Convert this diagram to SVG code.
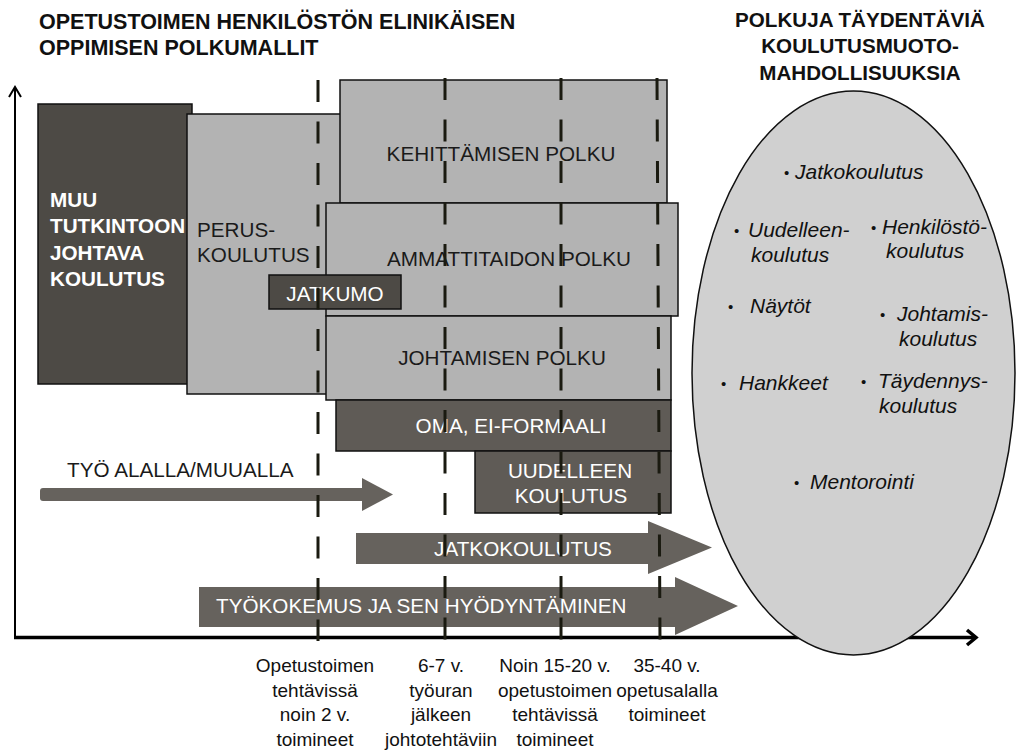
<svg xmlns="http://www.w3.org/2000/svg" width="1016" height="751" viewBox="0 0 1016 751">
<defs>
<style>
text{font-family:"Liberation Sans",Arial,Helvetica,sans-serif;}
.title{font-size:21.5px;font-weight:bold;fill:#111;}
.rtitle{font-size:20.6px;font-weight:bold;fill:#111;text-anchor:middle;}
.dark{fill:#4d4a45;stroke:#111;stroke-width:1.5;}
.mid{fill:#5f5b56;stroke:#111;stroke-width:1.5;}
.light{fill:#b3b3b3;stroke:#111;stroke-width:1.5;}
.arrow{fill:#66625d;stroke:none;}
.bt{font-size:20.7px;fill:#1a1a1a;}
.wt{font-size:20.7px;fill:#fff;}
.c{text-anchor:middle;}
.it{font-size:21px;font-style:italic;fill:#111;}
.bul{font-size:15px;fill:#111;}
.lab{font-size:19px;fill:#111;text-anchor:middle;}
.dash{stroke:#1a1a10;stroke-width:3;stroke-dasharray:22 19.5;fill:none;}
</style>
</defs>
<g id="titles">
<text class="title" x="39" y="29">OPETUSTOIMEN HENKILÖSTÖN ELINIKÄISEN</text>
<text class="title" x="39" y="55">OPPIMISEN POLKUMALLIT</text>
<text class="rtitle" x="860" y="27">POLKUJA TÄYDENTÄVIÄ</text>
<text class="rtitle" x="860" y="53">KOULUTUSMUOTO-</text>
<text class="rtitle" x="860" y="80">MAHDOLLISUUKSIA</text>
</g>
<g id="axes" fill="none" stroke="#000">
<line x1="15" y1="638" x2="15" y2="87" stroke-width="2"/>
<polyline points="9,97 15,87 21,97" stroke-width="2"/>
<line x1="14" y1="637.5" x2="975" y2="637.5" stroke-width="3.5"/>
<polyline points="967,630 976,637.5 967,645" stroke-width="3.5"/>
</g>
<g id="muu">
<rect class="dark" x="38" y="104" width="154" height="280"/>
<text class="wt" font-weight="bold" font-size="19.5" x="50" y="207">MUU</text>
<text class="wt" font-weight="bold" font-size="19.5" x="50" y="233">TUTKINTOON</text>
<text class="wt" font-weight="bold" font-size="19.5" x="50" y="260">JOHTAVA</text>
<text class="wt" font-weight="bold" font-size="19.5" x="50" y="286">KOULUTUS</text>
</g>
<g id="perus">
<rect class="light" x="187" y="114" width="160" height="280"/>
<text class="bt" x="197" y="237">PERUS-</text>
<text class="bt" x="197" y="262">KOULUTUS</text>
</g>
<g id="kehittamisen">
<rect class="light" x="340" y="80" width="327" height="123"/>
<text class="bt c" x="501" y="161">KEHITTÄMISEN POLKU</text>
</g>
<g id="ammattitaidon">
<rect class="light" x="326" y="203" width="352" height="113"/>
<text class="bt c" x="509" y="266">AMMATTITAIDON POLKU</text>
</g>
<g id="johtamisen">
<rect class="light" x="326" y="316" width="345" height="84"/>
<text class="bt c" x="502" y="365">JOHTAMISEN POLKU</text>
</g>
<g id="oma">
<rect class="mid" x="336" y="400" width="335" height="51"/>
<text class="wt c" x="511" y="433">OMA, EI-FORMAALI</text>
</g>
<g id="uudelleen">
<rect class="mid" x="475" y="451" width="196" height="62"/>
<text class="wt c" x="570" y="478">UUDELLEEN</text>
<text class="wt c" x="571" y="503">KOULUTUS</text>
</g>
<g id="jatkumo">
<rect class="dark" x="269" y="275" width="132" height="34"/>
<text class="wt c" x="335" y="301">JATKUMO</text>
</g>
<g id="tyo-alalla">
<rect class="arrow" x="40" y="488" width="326" height="13" rx="3"/>
<polygon class="arrow" points="362,478 393,494.5 362,511" stroke="#66625d" stroke-width="2" stroke-linejoin="round"/>
<text class="bt" x="67" y="477" font-size="21">TYÖ ALALLA/MUUALLA</text>
</g>
<g id="jatkokoulutus">
<polygon class="arrow" points="356,533 648,533 648,521 712,547.5 648,574 648,564 356,564"/>
<text class="wt c" x="523" y="556">JATKOKOULUTUS</text>
</g>
<g id="tyokokemus">
<polygon class="arrow" points="199,587 675,587 675,577 738,606 675,635 675,627 199,627"/>
<text class="wt" x="216" y="613">TYÖKOKEMUS JA SEN HYÖDYNTÄMINEN</text>
</g>
<g id="connectors">
<line class="dash" x1="318" y1="80" x2="318" y2="641"/>
<line class="dash" x1="445" y1="78" x2="445" y2="641"/>
<line class="dash" x1="561" y1="78" x2="561" y2="641"/>
<line class="dash" x1="657" y1="78" x2="660" y2="641"/>
</g>
<g id="ellipse">
<ellipse cx="853.5" cy="373" rx="161.5" ry="282" fill="#d0d0d0" stroke="#111" stroke-width="1.5"/>
<text class="bul" x="784" y="178">•</text><text class="it" x="795" y="179">Jatkokoulutus</text>
<text class="bul" x="734" y="236">•</text><text class="it" x="748" y="237">Uudelleen-</text>
<text class="it" x="751" y="262">koulutus</text>
<text class="bul" x="871" y="233">•</text><text class="it" x="882" y="234">Henkilöstö-</text>
<text class="it" x="886" y="258">koulutus</text>
<text class="bul" x="728" y="312">•</text><text class="it" x="750" y="313">Näytöt</text>
<text class="bul" x="880" y="320">•</text><text class="it" x="897" y="321">Johtamis-</text>
<text class="it" x="899" y="346">koulutus</text>
<text class="bul" x="721" y="389">•</text><text class="it" x="739" y="390">Hankkeet</text>
<text class="bul" x="861" y="387">•</text><text class="it" x="878" y="388">Täydennys-</text>
<text class="it" x="879" y="413">koulutus</text>
<text class="bul" x="794" y="488">•</text><text class="it" x="810" y="489">Mentorointi</text>
</g>
<g id="labels">
<text class="lab" x="315" y="672">Opetustoimen</text>
<text class="lab" x="315" y="697">tehtävissä</text>
<text class="lab" x="315" y="721">noin 2 v.</text>
<text class="lab" x="315" y="746">toimineet</text>
<text class="lab" x="441" y="672">6-7 v.</text>
<text class="lab" x="441" y="697">työuran</text>
<text class="lab" x="441" y="721">jälkeen</text>
<text class="lab" x="441" y="746">johtotehtäviin</text>
<text class="lab" x="555" y="672">Noin 15-20 v.</text>
<text class="lab" x="555" y="697">opetustoimen</text>
<text class="lab" x="555" y="721">tehtävissä</text>
<text class="lab" x="555" y="746">toimineet</text>
<text class="lab" x="667" y="672">35-40 v.</text>
<text class="lab" x="667" y="697">opetusalalla</text>
<text class="lab" x="667" y="721">toimineet</text>
</g>
</svg>
